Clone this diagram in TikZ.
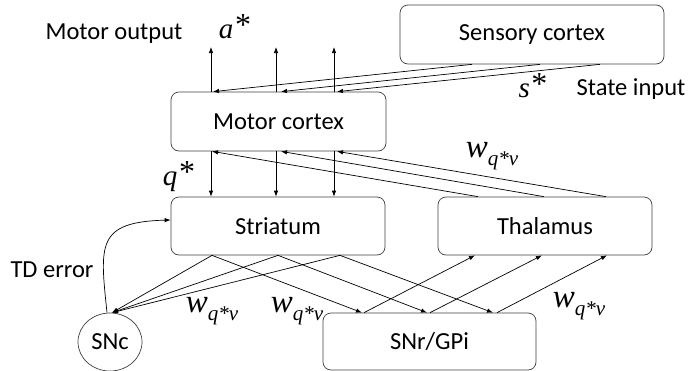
\documentclass[tikz,border=0pt]{standalone}
\usepackage{fontspec}
\setmainfont{Carlito}
\newfontfamily\tms{Liberation Serif}
\usetikzlibrary{arrows.meta,calc,shapes.geometric}
\newcommand{\wlab}{{\tms\fontsize{33}{33}\selectfont\itshape w}\raisebox{-8pt}{\tms\fontsize{21}{21}\selectfont\itshape q*v}}
\newcommand{\starlab}[1]{{\tms\fontsize{29}{29}\selectfont\itshape #1}\,\raisebox{3pt}{\tms\fontsize{32}{32}\selectfont *}}
\begin{document}
\begin{tikzpicture}[x=1pt,y=-1pt,
  box/.style={draw=black!75, rounded corners=8pt, line width=0.7pt, inner sep=0pt,
    font=\fontsize{24.5}{28}\selectfont},
  lab/.style={inner sep=0pt, font=\fontsize{24.5}{28}\selectfont},
  arr/.style={line width=0.7pt, -{Latex[length=6pt,width=4.5pt]}}]
\useasboundingbox (0,0) rectangle (689,370);
% boxes
\node[box, minimum width=264pt, minimum height=59pt] (sc) at (532,34.5) {Sensory cortex};
\node[box, minimum width=215pt, minimum height=59pt] (mc) at (278.5,121.5) {Motor cortex};
\node[box, minimum width=214pt, minimum height=58pt] (st) at (278,226) {Striatum};
\node[box, minimum width=214pt, minimum height=58pt] (th) at (545,226) {Thalamus};
\node[box, minimum width=213pt, minimum height=57pt] (sn) at (429.5,341.5) {SNr/GPi};
\node[box, ellipse, rounded corners=0pt, minimum width=64pt, minimum height=58pt] (snc) at (110,342) {SNc};
% labels
\node[lab] (mo) at (114,34) {Motor output};
\node[lab] (si) at (631,89) {State input};
\node[lab] (td) at (52,270) {TD error};
\node[inner sep=0pt] (as) at (235,27) {\starlab{a}};
\node[inner sep=0pt] (ss) at (533,86) {\starlab{s}};
\node[inner sep=0pt] (qs) at (179,177) {\starlab{q}};
\node[inner sep=0pt] (w1) at (492,156) {\wlab};
\node[inner sep=0pt] (w2) at (212,311) {\wlab};
\node[inner sep=0pt] (w3) at (297,311) {\wlab};
\node[inner sep=0pt] (w4) at (579,306) {\wlab};
% coordinates on box edges
\foreach \i/\x in {1/211,2/276,3/334}{
  \coordinate (mt\i) at (\x,0 |- mc.north);
  \coordinate (up\i) at (\x,47);
  \coordinate (mb\i) at (\x,0 |- mc.south);
  \coordinate (stt\i) at (\x,0 |- st.north);
}
\foreach \i/\x in {1/213,2/281,3/337}{ \coordinate (mtb\i) at (\x,0 |- mc.north); }
\foreach \i/\x in {1/212,2/281,3/337}{ \coordinate (mbb\i) at (\x,0 |- mc.south); }
\foreach \i/\x in {1/472,2/540,3/600}{ \coordinate (scb\i) at (\x,0 |- sc.south); }
\foreach \i/\x in {1/478,2/544,3/606}{ \coordinate (tht\i) at (\x,0 |- th.north); }
\foreach \i/\x in {1/475,2/542,3/607}{ \coordinate (thb\i) at (\x,0 |- th.south); }
\foreach \i/\x in {1/212,2/278,3/340}{ \coordinate (stb\i) at (\x,0 |- st.south); }
\foreach \i/\x in {1/362,2/427,3/493}{ \coordinate (snt\i) at (\x,0 |- sn.north); }
\foreach \i/\x in {1/364,2/430,3/497}{ \coordinate (sno\i) at (\x,0 |- sn.north); }
\coordinate (sncT) at ($(snc.north)+(2,0)$);
\coordinate (sncS) at ($(snc.north)+(-3,0)$);
\coordinate (stW) at ($(st.west)+(0,-6)$);
% connectors
\foreach \i in {1,2,3}{
  \draw[arr] (mt\i) -- (up\i);
  \draw[arr] (scb\i) -- (mtb\i);
  \draw[arr] (mb\i) -- (stt\i);
  \draw[arr] (tht\i) -- (mbb\i);
  \draw[arr] (stb\i) -- (sncT);
  \draw[arr] (stb\i) -- (snt\i);
  \draw[arr] (sno\i) -- (thb\i);
}
\draw[arr] (sncS) .. controls (100,245) and (96,222) .. (stW);
\end{tikzpicture}
\end{document}
